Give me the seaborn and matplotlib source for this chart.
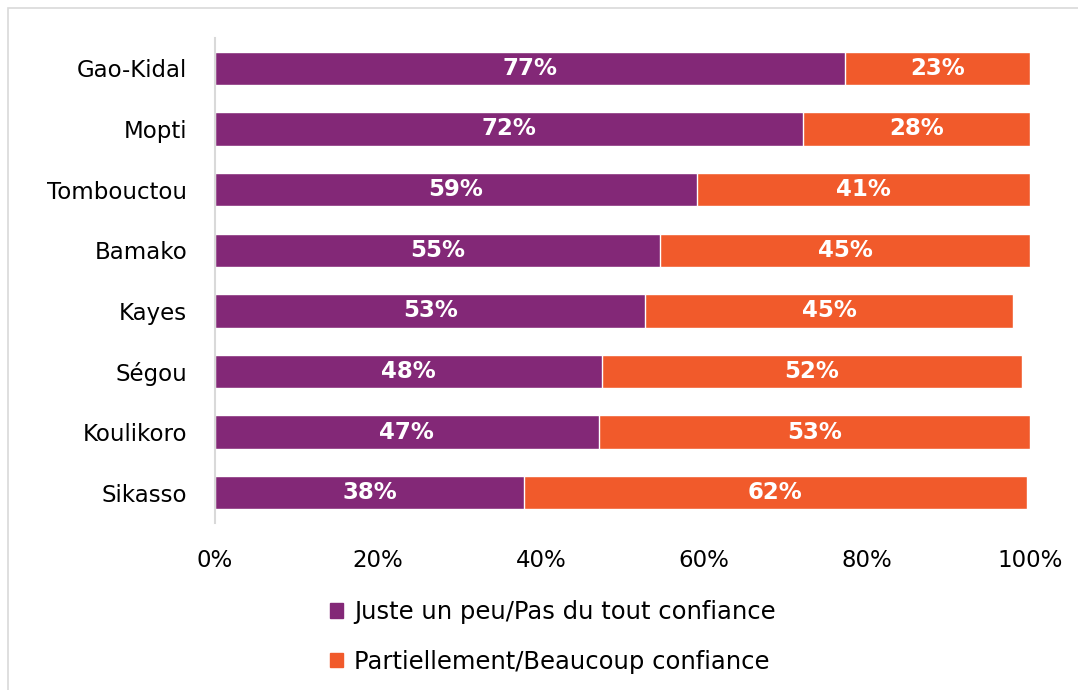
import pandas as pd
import numpy as np
import matplotlib.pyplot as plt
import seaborn as sns
from matplotlib.patches import Patch, Rectangle

regions = ["Gao-Kidal", "Mopti", "Tombouctou", "Bamako", "Kayes", "Ségou", "Koulikoro", "Sikasso"]
peu_confiance = [77.3, 72.1, 59.1, 54.6, 52.8, 47.5, 47.1, 37.9]
beaucoup_confiance = [22.7, 27.9, 40.9, 45.4, 45.1, 51.5, 52.9, 61.7]
labels_peu = ["77%", "72%", "59%", "55%", "53%", "48%", "47%", "38%"]
labels_beaucoup = ["23%", "28%", "41%", "45%", "45%", "52%", "53%", "62%"]
legend_names = ["Juste un peu/Pas du tout confiance", "Partiellement/Beaucoup confiance"]
xticks = [0, 20, 40, 60, 80, 100]

purple = "#832877"
orange = "#F15A2B"

df = pd.DataFrame({"region": regions, "peu": peu_confiance, "beaucoup": beaucoup_confiance})
df["total"] = df["peu"] + df["beaucoup"]

sns.set_style("white")
plt.rcParams["font.family"] = ["DejaVu Sans"]
plt.rcParams["text.color"] = "black"
plt.rcParams["xtick.color"] = "black"
plt.rcParams["ytick.color"] = "black"

fig = plt.figure(figsize=(10.78, 6.9), dpi=100)
ax = fig.add_axes([0.1994, 0.242, 0.7561, 0.7029])

sns.barplot(data=df, y="region", x="total", color=orange, saturation=1, width=0.55, ax=ax, orient="h")
sns.barplot(data=df, y="region", x="peu", color=purple, saturation=1, width=0.55, ax=ax, orient="h")

for i, row in df.iterrows():
    ax.text(row["peu"] / 2, i, labels_peu[i], ha="center", va="center",
            color="white", fontsize=16.5, fontweight="bold")
    ax.text(row["peu"] + row["beaucoup"] / 2, i, labels_beaucoup[i], ha="center", va="center",
            color="white", fontsize=16.5, fontweight="bold")

ax.set_xlim(0, 100)
ax.set_ylim(len(regions) - 0.5, -0.5)
ax.set_xticks(xticks)
ax.set_xticklabels([f"{t}%" for t in xticks], fontsize=16.5)
ax.tick_params(axis="y", labelsize=16.5, length=0, pad=20)
ax.tick_params(axis="x", length=0, pad=19)
ax.set_xlabel("")
ax.set_ylabel("")
for s in ["top", "right", "bottom"]:
    ax.spines[s].set_visible(False)
ax.spines["left"].set_color("#d9d9d9")
ax.spines["left"].set_linewidth(1.5)

handles = [Patch(color=purple), Patch(color=orange)]
fig.legend(handles, legend_names, loc="center", bbox_to_anchor=(0.513, 0.077),
           ncol=1, frameon=False, fontsize=17.5, handlelength=0.55, handleheight=0.55,
           handletextpad=0.45, labelspacing=1.05)

fig.patches.append(Rectangle((0.007, -0.01), 1.0, 0.998, transform=fig.transFigure,
                             fill=False, edgecolor="#d9d9d9", linewidth=1.2))

fig.savefig("out.png", dpi=100)
